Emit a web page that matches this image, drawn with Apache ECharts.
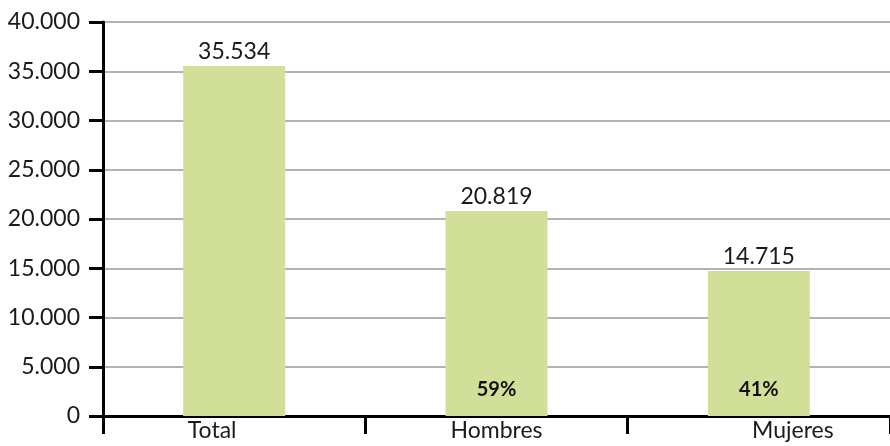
<!DOCTYPE html>
<html>
<head>
<meta charset="utf-8">
<script src="https://cdn.jsdelivr.net/npm/echarts@6/dist/echarts.min.js"></script>
<style>html,body{margin:0;padding:0;background:#fff}#c{width:890px;height:446px}</style>
</head>
<body>
<div id="c"></div>
<script>
var categories = ['Total', 'Hombres', 'Mujeres'];
var values = [35534, 20819, 14715];
var percents = ['', '59%', '41%'];
var yTicks = [0, 5000, 10000, 15000, 20000, 25000, 30000, 35000, 40000];

function fmt(v) {
  return String(v).replace(/\B(?=(\d{3})+(?!\d))/g, '.');
}
var FONT = 'Lato';
var FS = 23;
var chart = echarts.init(document.getElementById('c'));
chart.setOption({
  animation: false,
  grid: { left: 103, right: 0, top: 22, bottom: 30 },
  xAxis: {
    type: 'category',
    data: categories,
    axisLine: { lineStyle: { color: '#000', width: 3 } },
    axisTick: { show: true, length: 18, lineStyle: { color: '#000', width: 3 } },
    axisLabel: {
      margin: 3,
      color: '#1a1a1a',
      fontFamily: FONT,
      fontSize: FS,
      formatter: function (v, i) { return '{c' + i + '|' + v + '}'; },
      rich: {
        c0: { fontFamily: FONT, fontSize: FS, color: '#1a1a1a', padding: [0, 44, 0, 0] },
        c1: { fontFamily: FONT, fontSize: FS, color: '#1a1a1a' },
        c2: { fontFamily: FONT, fontSize: FS, color: '#1a1a1a', padding: [0, 0, 0, 68] }
      }
    }
  },
  yAxis: {
    type: 'value',
    min: yTicks[0],
    max: yTicks[yTicks.length - 1],
    interval: yTicks[1] - yTicks[0],
    axisLine: { show: true, lineStyle: { color: '#000', width: 3 } },
    axisTick: { show: true, length: 14, lineStyle: { color: '#000', width: 3 } },
    axisLabel: { margin: 23, color: '#1a1a1a', fontFamily: FONT, fontSize: FS, formatter: fmt },
    splitLine: { lineStyle: { color: '#b3b3b5', width: 2 } }
  },
  series: [
    {
      type: 'bar',
      data: values,
      barWidth: 102,
      itemStyle: { color: '#d1df99' },
      label: {
        show: true, position: 'top', distance: 3,
        color: '#1a1a1a', fontFamily: FONT, fontSize: FS,
        formatter: function (p) { return fmt(p.value); }
      }
    },
    {
      type: 'bar',
      data: values,
      barWidth: 102,
      barGap: '-100%',
      itemStyle: { color: 'rgba(0,0,0,0)' },
      label: {
        show: true, position: 'insideBottom', distance: 16,
        color: '#111', fontFamily: FONT, fontSize: 20, fontWeight: 'bold',
        formatter: function (p) { return percents[p.dataIndex]; }
      }
    }
  ]
});
</script>
</body>
</html>
